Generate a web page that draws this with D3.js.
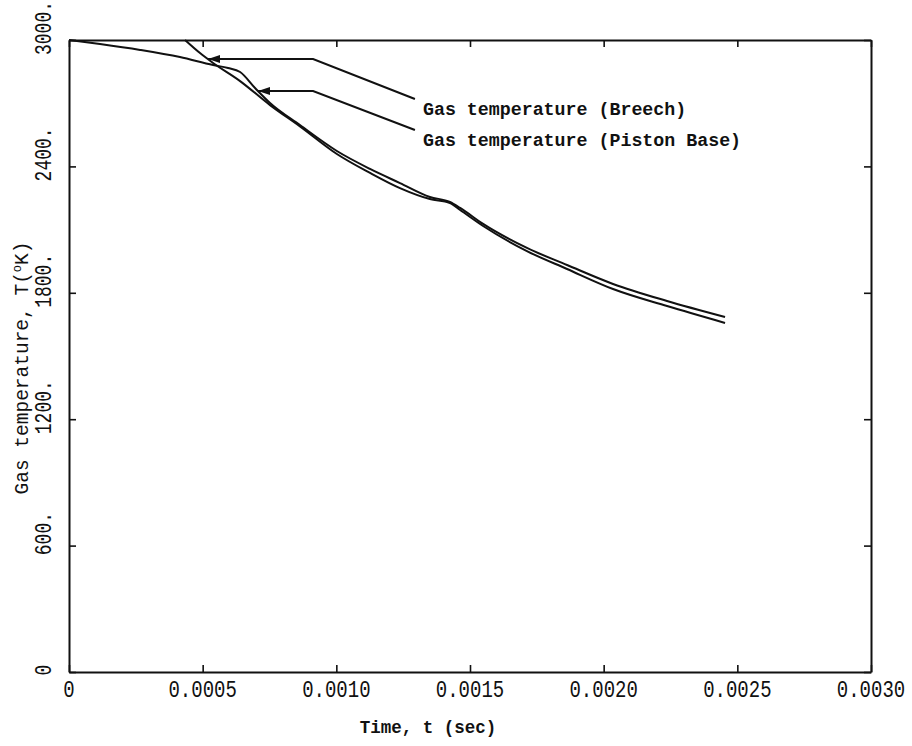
<!DOCTYPE html>
<html>
<head>
<meta charset="utf-8">
<script src="https://cdn.jsdelivr.net/npm/d3@7"></script>
<style>
  body { margin: 0; background: #fff; }
  svg text { font-family: "Liberation Mono", "DejaVu Sans Mono", monospace; fill: #111; }
</style>
</head>
<body>
<div class="chart"></div>
<script>
//data (time in sec, temperature in K)
const breechT = [0, 0.000116, 0.000266, 0.000415, 0.000539, 0.000595, 0.000640, 0.000696, 0.000752,
  0.000864, 0.001002, 0.001126, 0.001238, 0.001350, 0.001425, 0.001463, 0.001549, 0.001713,
  0.001863, 0.002035, 0.002237, 0.002454];
const breechTemp = [3000, 2981, 2953, 2919, 2881, 2867, 2848, 2772, 2701,
  2596, 2473, 2388, 2321, 2255, 2231, 2203, 2127, 2013,
  1932, 1842, 1761, 1685];

const pistonT = [0.000434, 0.000490, 0.000539, 0.000640, 0.000752, 0.000864, 0.001002, 0.001126,
  0.001238, 0.001350, 0.001425, 0.001463, 0.001549, 0.001713, 0.001863, 0.002035, 0.002237, 0.002454];
const pistonTemp = [3000, 2938, 2891, 2805, 2691, 2590, 2459, 2369,
  2297, 2245, 2226, 2193, 2117, 1998, 1913, 1818, 1737, 1657];

const xTicks = [0, 0.0005, 0.0010, 0.0015, 0.0020, 0.0025, 0.0030],
      xTickLabels = ["0", "0.0005", "0.0010", "0.0015", "0.0020", "0.0025", "0.0030"];
const yTicks = [0, 600, 1200, 1800, 2400, 3000],
      yTickLabels = ["0", "600.", "1200.", "1800.", "2400.", "3000."];

//callout labels: arrow tip, elbow and end in data units
const noteLabels = ["Gas temperature (Breech)", "Gas temperature (Piston Base)"],
      noteTip = [[0.000520, 2910], [0.000707, 2758]],
      noteElbow = [[0.000913, 2910], [0.000913, 2758]],
      noteEnd = [[0.001294, 2720], [0.001294, 2573]],
      noteText = [[0.001324, 2645], [0.001324, 2495]];

//canvas
const width = 912, height = 746,
      pLeft = 69, pRight = 871, pTop = 40, pBottom = 672;

const x = d3.scaleLinear().domain([0, 0.003]).range([pLeft, pRight]);
const y = d3.scaleLinear().domain([0, 3000]).range([pBottom, pTop]);

const svg = d3.select(".chart").append("svg")
    .attr("width", width)
    .attr("height", height);

svg.append("defs").append("clipPath").attr("id", "plot")
   .append("rect")
   .attr("x", pLeft).attr("y", pTop - 1)
   .attr("width", pRight - pLeft).attr("height", pBottom - pTop + 1);

//frame with inward ticks on all four sides
const axes = [
  [d3.axisBottom(x).tickValues(xTicks), "translate(0," + pBottom + ")"],
  [d3.axisTop(x).tickValues(xTicks), "translate(0," + pTop + ")"],
  [d3.axisLeft(y).tickValues(yTicks), "translate(" + pLeft + ",0)"],
  [d3.axisRight(y).tickValues(yTicks), "translate(" + pRight + ",0)"]
];
axes.forEach(([ax, tr]) => {
  const g = svg.append("g")
    .attr("transform", tr)
    .call(ax.tickSizeInner(-7).tickSizeOuter(0).tickFormat(""));
  g.select(".domain").attr("stroke", "#111").attr("stroke-width", 2);
  g.selectAll(".tick line").attr("stroke", "#111").attr("stroke-width", 1.6);
});

//tick labels (tall, narrow plotter lettering)
svg.append("g").selectAll("text")
   .data(xTicks)
   .enter().append("text")
   .attr("text-anchor", "middle")
   .attr("font-size", 19)
   .attr("transform", d => "translate(" + x(d) + ",697) scale(1,1.25)")
   .text((d, i) => xTickLabels[i]);

svg.append("g").selectAll("text")
   .data(yTicks)
   .enter().append("text")
   .attr("text-anchor", "middle")
   .attr("font-size", 18)
   .attr("transform", d => "translate(51," + (y(d) - (d ? 12 : 2)) + ") rotate(-90) scale(1,1.3)")
   .text((d, i) => yTickLabels[i]);

//axis titles
svg.append("text")
   .attr("x", 428).attr("y", 733)
   .attr("text-anchor", "middle")
   .attr("font-size", 17.5)
   .attr("font-weight", "bold")
   .text("Time, t (sec)");

const yTitle = svg.append("text")
   .attr("transform", "translate(28,368) rotate(-90)")
   .attr("text-anchor", "middle")
   .attr("font-size", 19.5);
yTitle.append("tspan").text("Gas temperature, T(");
yTitle.append("tspan").attr("dy", -7).attr("font-size", 12).text("o");
yTitle.append("tspan").attr("dy", 7).text("K)");

//curves
const line = d3.line().x(d => x(d[0])).y(d => y(d[1]));
const curve = d3.line().x(d => x(d[0])).y(d => y(d[1])).curve(d3.curveMonotoneX);
const series = [d3.zip(breechT, breechTemp), d3.zip(pistonT, pistonTemp)];

svg.append("g")
   .attr("clip-path", "url(#plot)")
   .selectAll("path")
   .data(series)
   .enter().append("path")
   .attr("d", curve)
   .attr("fill", "none")
   .attr("stroke", "#111")
   .attr("stroke-width", 2)
   .attr("stroke-linejoin", "round");

//callouts
const notes = svg.append("g");
noteLabels.forEach((lab, i) => {
  notes.append("path")
    .attr("d", line([noteTip[i], noteElbow[i], noteEnd[i]]))
    .attr("fill", "none")
    .attr("stroke", "#111")
    .attr("stroke-width", 2);
  const tx = x(noteTip[i][0]), ty = y(noteTip[i][1]);
  notes.append("path")
    .attr("d", "M" + tx + "," + ty + "L" + (tx + 12) + "," + (ty - 4) + "L" + (tx + 12) + "," + (ty + 4) + "Z")
    .attr("fill", "#111");
  notes.append("text")
    .attr("x", x(noteText[i][0]))
    .attr("y", y(noteText[i][1]))
    .attr("font-size", 18.3)
    .attr("font-weight", "bold")
    .text(lab);
});
</script>
</body>
</html>
